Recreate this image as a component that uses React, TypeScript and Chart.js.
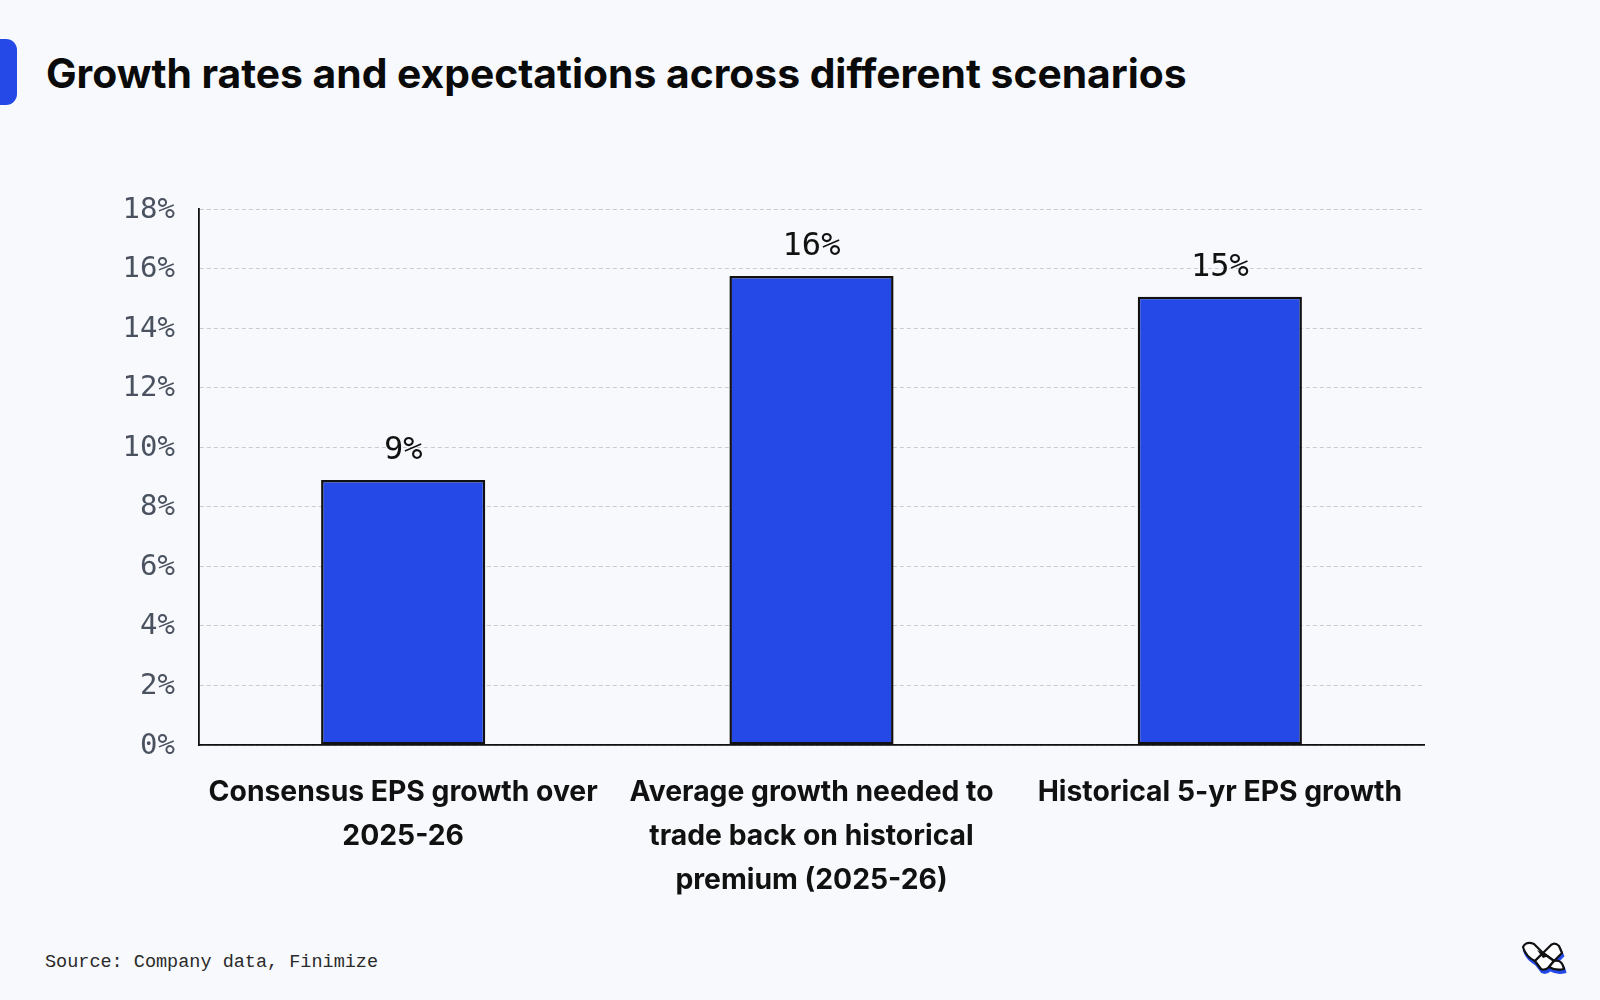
import React, { useEffect, useRef } from "react";
import { Chart, registerables } from "chart.js";

Chart.register(...registerables);

const categories: string[][] = [
  ["Consensus EPS growth over", "2025-26"],
  ["Average growth needed to", "trade back on historical", "premium (2025-26)"],
  ["Historical 5-yr EPS growth"],
];
const growthValues: number[] = [8.9, 15.75, 15.05];
const valueLabels: string[] = ["9%", "16%", "15%"];
const yTickMax = 18;
const yTickStep = 2;

const TITLE = "Growth rates and expectations across different scenarios";
const SOURCE = "Source: Company data, Finimize";

const BG = "#f7f9fc";
const BLUE = "#2449e6";

const valueLabelPlugin = {
  id: "valueLabels",
  afterDatasetsDraw(chart: any) {
    const ctx = chart.ctx;
    const meta = chart.getDatasetMeta(0);
    meta.data.forEach((bar: any, i: number) => {
      ctx.save();
      ctx.font = '32px "DejaVu Sans Mono"';
      ctx.fillStyle = "#111111";
      ctx.textAlign = "center";
      ctx.textBaseline = "middle";
      ctx.fillText(valueLabels[i], bar.x, bar.y - 29);
      ctx.restore();
    });
  },
};

function BarChart() {
  const ref = useRef<HTMLCanvasElement | null>(null);
  useEffect(() => {
    if (!ref.current) return;
    const chart = new Chart(ref.current, {
      type: "bar",
      data: {
        labels: categories,
        datasets: [
          {
            data: growthValues,
            backgroundColor: BLUE,
            borderColor: "#111111",
            borderWidth: 2.5,
            borderSkipped: false,
            categoryPercentage: 1,
            barPercentage: 0.402,
          },
        ],
      },
      options: {
        responsive: false,
        animation: false,
        layout: { padding: { left: 0, right: 176, top: 59, bottom: 0 } },
        plugins: {
          legend: { display: false },
          tooltip: { enabled: false },
        },
        scales: {
          x: {
            grid: { display: false, drawTicks: false },
            border: { display: true, color: "#111111", width: 1.8 },
            ticks: {
              autoSkip: false,
              maxRotation: 0,
              minRotation: 0,
              padding: 25,
              color: "#111111",
              font: { family: "Inter", weight: "bold", size: 28.3, lineHeight: 44 / 28.3 },
            },
            afterFit: (s: any) => {
              s.height = 165;
            },
          },
          y: {
            min: 0,
            max: yTickMax,
            grid: { color: "#c9ccd2", lineWidth: 1, drawTicks: false },
            border: { display: true, color: "#111111", width: 1.8, dash: [4, 3] },
            ticks: {
              stepSize: yTickStep,
              padding: 24,
              labelOffset: 1,
              color: "#4a5260",
              font: { family: "DejaVu Sans Mono", size: 29 },
              callback: (v: any) => `${v}%`,
            },
            afterFit: (s: any) => {
              s.width = 199;
            },
          },
        },
      },
      plugins: [valueLabelPlugin],
    });
    return () => chart.destroy();
  }, []);
  return (
    <canvas
      ref={ref}
      width={1600}
      height={760}
      style={{ position: "absolute", left: 0, top: 150, width: 1600, height: 760 }}
    />
  );
}

function Logo() {
  const shapes = (
    <>
      <path d="M5 9 Q8 3 16 6 L25 15 L17 23 Q8 19 5 9 Z" />
      <path d="M25 15 L33 7 Q37 4 41 8 L44 15 L36 23 Z" />
      <path d="M25 15 L17 23 L23 31 Q27 33 31 29 L36 23 Z" />
      <path d="M36 23 Q44 21 46 31 Q38 33 31 29 Z" />
    </>
  );
  return (
    <svg
      width={52}
      height={40}
      viewBox="0 0 52 40"
      style={{ position: "absolute", left: 1518, top: 938 }}
    >
      <g transform="translate(1,3)" fill={BLUE} stroke={BLUE} strokeWidth={2.5}>
        {shapes}
      </g>
      <g fill="#ffffff" stroke="#111111" strokeWidth={2.2} strokeLinejoin="round">
        {shapes}
      </g>
      <path d="M19 12 L25 15 L31 18 L25 20 Z" fill="#111111" />
    </svg>
  );
}

export default function App() {
  return (
    <div
      style={{
        position: "fixed",
        left: 0,
        top: 0,
        width: 1600,
        height: 1000,
        background: BG,
        overflow: "hidden",
      }}
    >
      <div
        style={{
          position: "absolute",
          left: -12,
          top: 39,
          width: 28.5,
          height: 66,
          borderRadius: 11,
          background: BLUE,
        }}
      />
      <div
        style={{
          position: "absolute",
          left: 46,
          top: 50,
          lineHeight: "46px",
          fontFamily: "Inter",
          fontWeight: 700,
          fontSize: 40.8,
          color: "#0a0a0a",
          whiteSpace: "nowrap",
          letterSpacing: "0px",
        }}
      >
        {TITLE}
      </div>
      <BarChart />
      <div
        style={{
          position: "absolute",
          left: 45,
          top: 951,
          lineHeight: "24px",
          fontFamily: "Liberation Mono",
          fontSize: 18.5,
          color: "#2a2a2a",
          whiteSpace: "nowrap",
        }}
      >
        {SOURCE}
      </div>
      <Logo />
    </div>
  );
}
